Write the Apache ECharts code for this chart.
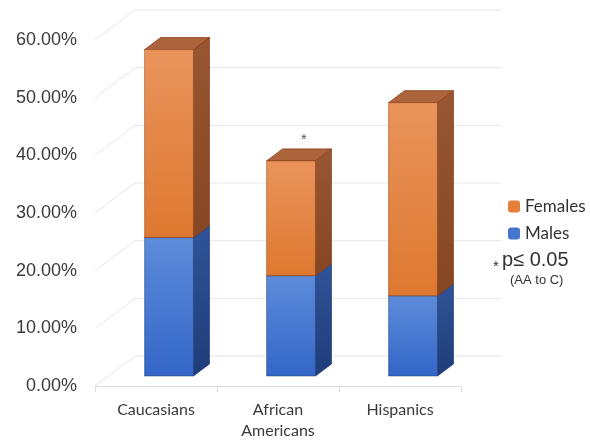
<!DOCTYPE html>
<html>
<head>
<meta charset="utf-8">
<script src="https://cdn.jsdelivr.net/npm/echarts@6/dist/echarts.min.js"></script>
<style>
  html, body { margin: 0; padding: 0; background: #fff; }
  #chart { width: 590px; height: 441px; }
</style>
</head>
<body>
<div id="chart"></div>
<script>
const categories = ["Caucasians", "African\nAmericans", "Hispanics"];
const males = [24.0, 17.4, 13.9];
const females = [32.6, 19.9, 33.5];
const marks = ["", "*", ""];
const yTicks = [0, 10, 20, 30, 40, 50, 60];

// 3d look: depth of the wall and of the bars (pixels)
const WALL_DX = 40, WALL_DY = -30;
const OFF_X = 13, OFF_Y = -10;
const BAR_DX = 16, BAR_DY = -12;

const palette = {
  Males: {
    front: ["#5d8cda", "#3466c8"],
    side: ["#2f5498", "#1f3c78"],
    top: "#4a72b8",
    edge: "#1d3a7a"
  },
  Females: {
    front: ["#e9945c", "#de7830"],
    side: ["#985732", "#854623"],
    top: "#ac643c",
    edge: "#8a3c12"
  }
};

function grad(c) {
  return new echarts.graphic.LinearGradient(0, 0, 0, 1, [
    { offset: 0, color: c[0] },
    { offset: 1, color: c[1] }
  ]);
}

function barRender(name) {
  const col = palette[name];
  return function(params, api) {
    const i = api.value(0);
    const base = api.coord([i, api.value(1)]);
    const top = api.coord([i, api.value(2)]);
    const bw = api.size([1, 0])[0];
    const w = bw * 0.4;
    const xL = base[0] - w / 2 + OFF_X;
    const xR = xL + w;
    const yB = base[1] + OFF_Y;
    const yT = top[1] + OFF_Y;
    const children = [
      {
        type: "polygon",
        shape: { points: [[xR, yT], [xR + BAR_DX, yT + BAR_DY], [xR + BAR_DX, yB + BAR_DY], [xR, yB]] },
        style: { fill: grad(col.side), stroke: col.edge, lineWidth: 0.8 }
      },
      {
        type: "polygon",
        shape: { points: [[xL, yT], [xL + BAR_DX, yT + BAR_DY], [xR + BAR_DX, yT + BAR_DY], [xR, yT]] },
        style: { fill: col.top, stroke: col.edge, lineWidth: 0.8 }
      },
      {
        type: "rect",
        shape: { x: xL, y: yT, width: w, height: yB - yT },
        style: { fill: grad(col.front), stroke: col.edge, lineWidth: 0.5 }
      }
    ];
    if (name === "Females" && marks[i]) {
      children.push({
        type: "text",
        style: {
          text: marks[i],
          x: xL + w / 2 + BAR_DX / 2 + 5,
          y: yT + BAR_DY - 9,
          align: "center",
          verticalAlign: "middle",
          fontSize: 15,
          fontFamily: "Liberation Sans",
          fill: "#555"
        }
      });
    }
    return { type: "group", children: children };
  };
}

// left wall diagonals + back wall gridlines
function wallRender(params, api) {
  const cs = params.coordSys;
  const y = api.coord([0, api.value(0)])[1];
  return {
    type: "group",
    children: [
      {
        type: "line",
        shape: { x1: cs.x, y1: y, x2: cs.x + WALL_DX, y2: y + WALL_DY },
        style: { stroke: "#e6e6e6", lineWidth: 1 }
      },
      {
        type: "line",
        shape: { x1: cs.x + WALL_DX, y1: y + WALL_DY, x2: cs.x + cs.width + WALL_DX, y2: y + WALL_DY },
        style: { stroke: "#e6e6e6", lineWidth: 1 }
      }
    ]
  };
}

const chart = echarts.init(document.getElementById("chart"));
chart.setOption({
  animation: false,
  backgroundColor: "#ffffff",
  grid: { left: 95, right: 129, top: 40, bottom: 50, containLabel: false },
  legend: {
    data: ["Females", "Males"],
    orient: "vertical",
    left: 508,
    top: 198,
    padding: 0,
    itemWidth: 12,
    itemHeight: 12,
    itemGap: 10,
    textStyle: { fontSize: 17, fontFamily: "Lato", color: "#333" }
  },
  xAxis: {
    type: "category",
    data: categories,
    axisLine: { show: true, lineStyle: { color: "#dcdcdc" } },
    axisTick: { show: true, length: 6, lineStyle: { color: "#dcdcdc" } },
    axisLabel: {
      margin: 13,
      fontSize: 16,
      lineHeight: 21,
      fontFamily: "Lato",
      color: "#3a3a3a",
      interval: 0
    }
  },
  yAxis: {
    type: "value",
    min: 0,
    max: 60,
    interval: 10,
    axisLine: { show: false },
    axisTick: { show: false },
    splitLine: { show: false },
    axisLabel: {
      margin: 18,
      fontSize: 18,
      fontFamily: "Liberation Sans",
      color: "#3a3a3a",
      formatter: function(v) {
        return v.toFixed(2) + "%";
      }
    }
  },
  graphic: [
    { type: "text", left: 493, top: 259, style: { text: "*", fontSize: 15, fontFamily: "Liberation Sans", fill: "#333" } },
    { type: "text", left: 502, top: 250, style: { text: "p≤ 0.05", fontSize: 20, fontFamily: "Liberation Sans", fill: "#333" } },
    { type: "text", left: 510, top: 274, style: { text: "(AA to C)", fontSize: 13, fontFamily: "Liberation Sans", fill: "#333" } }
  ],
  series: [
    {
      name: "wall",
      type: "custom",
      renderItem: wallRender,
      data: yTicks.map(v => [v]),
      encode: { y: 0 },
      silent: true,
      z: 1
    },
    {
      name: "Males",
      type: "custom",
      renderItem: barRender("Males"),
      itemStyle: { color: "#4675cc" },
      encode: { x: 0, y: [1, 2] },
      data: males.map((v, i) => [i, 0, v]),
      z: 2
    },
    {
      name: "Females",
      type: "custom",
      renderItem: barRender("Females"),
      itemStyle: { color: "#e57f3a" },
      encode: { x: 0, y: [1, 2] },
      data: females.map((v, i) => [i, males[i], males[i] + v]),
      z: 3
    }
  ]
});
</script>
</body>
</html>
